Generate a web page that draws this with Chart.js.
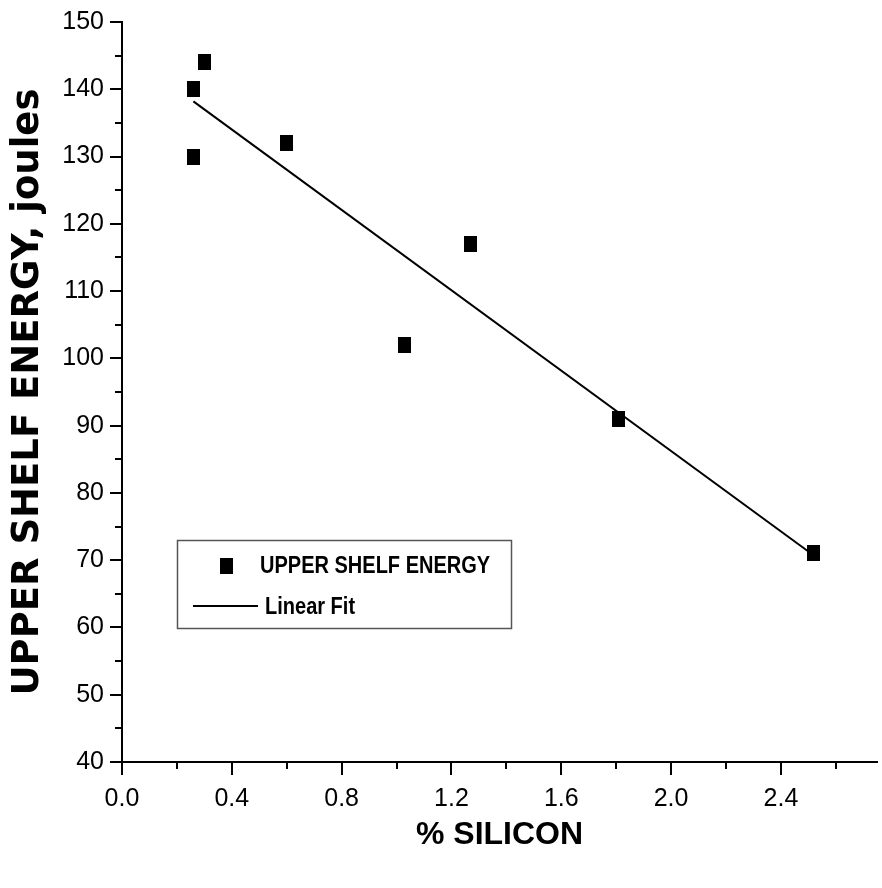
<!DOCTYPE html>
<html>
<head>
<meta charset="utf-8">
<script src="https://cdn.jsdelivr.net/npm/chart.js@4/dist/chart.umd.min.js"></script>
<style>
  html, body { margin: 0; padding: 0; background: #fff; }
  #wrap { width: 882px; height: 888px; }
</style>
</head>
<body>
<div id="wrap"><canvas id="silicon"></canvas></div>
<script>
// measured points: % silicon vs upper shelf energy
const siliconPct = [0.26, 0.26, 0.30, 0.60, 1.03, 1.27, 1.81, 2.52];
const shelfEnergy = [140, 130, 144, 132, 102, 117, 91, 71];

// linear fit end points
const fitX = [0.26, 2.52];
const fitY = [138.2, 70.7];

const xMajor = [0.0, 0.4, 0.8, 1.2, 1.6, 2.0, 2.4];
const xMinor = [0.2, 0.6, 1.0, 1.4, 1.8, 2.2, 2.6];
const yMajor = [40, 50, 60, 70, 80, 90, 100, 110, 120, 130, 140, 150];
const yMinor = [45, 55, 65, 75, 85, 95, 105, 115, 125, 135, 145];

const seriesName = "UPPER SHELF ENERGY";
const fitName = "Linear Fit";

// square marker, a bit taller than wide like the original
function makeMarker() {
    let c = document.createElement("canvas");
    c.width = 13;
    c.height = 16;
    let g = c.getContext("2d");
    g.fillStyle = "#000";
    g.fillRect(0, 0, 13, 16);
    return c;
}
const marker = makeMarker();

const minorTicks = {
    id: "minorTicks",
    afterDraw(chart) {
        const ctx = chart.ctx;
        const xs = chart.scales.x;
        const ys = chart.scales.y;
        ctx.save();
        ctx.strokeStyle = "#000";
        ctx.lineWidth = 2;
        ctx.beginPath();
        xMinor.forEach(v => {
            const px = Math.round(xs.getPixelForValue(v));
            ctx.moveTo(px, ys.bottom);
            ctx.lineTo(px, ys.bottom + 7);
        });
        yMinor.forEach(v => {
            const py = Math.round(ys.getPixelForValue(v));
            ctx.moveTo(xs.left, py);
            ctx.lineTo(xs.left - 7, py);
        });
        ctx.stroke();
        ctx.restore();
    }
};

// condensed text (no narrow font installed, so squeeze it)
function narrowText(ctx, txt, x, y, squeeze) {
    ctx.save();
    ctx.translate(x, y);
    ctx.scale(squeeze, 1);
    ctx.fillText(txt, 0, 0);
    ctx.restore();
}

// legend box inside the plot, lower left
const boxLegend = {
    id: "boxLegend",
    afterDraw(chart) {
        const ctx = chart.ctx;
        ctx.save();
        ctx.strokeStyle = "#555";
        ctx.lineWidth = 1.5;
        ctx.strokeRect(177.5, 540.5, 334, 88);
        ctx.drawImage(marker, 220, 558);
        ctx.strokeStyle = "#000";
        ctx.lineWidth = 2;
        ctx.beginPath();
        ctx.moveTo(193, 606);
        ctx.lineTo(258, 606);
        ctx.stroke();
        ctx.fillStyle = "#000";
        ctx.font = "bold 23px 'Liberation Sans', Arial, sans-serif";
        ctx.textBaseline = "middle";
        narrowText(ctx, seriesName, 260, 567, 0.87);
        narrowText(ctx, fitName, 265, 608, 0.87);
        ctx.restore();
    }
};

new Chart("silicon", {
    type: "scatter",
    data: {
        datasets: [{
            label: seriesName,
            data: siliconPct.map((x, i) => ({x: x, y: shelfEnergy[i]})),
            pointStyle: marker,
            backgroundColor: "#000",
            borderColor: "#000"
        }, {
            type: "line",
            label: fitName,
            data: fitX.map((x, i) => ({x: x, y: fitY[i]})),
            borderColor: "#000",
            borderWidth: 2,
            pointRadius: 0,
            fill: false
        }]
    },
    options: {
        responsive: true,
        maintainAspectRatio: false,
        animation: false,
        layout: {padding: {top: 22, right: 2, bottom: 34, left: 0}},
        plugins: {
            legend: {display: false},
            tooltip: {enabled: false}
        },
        scales: {
            x: {
                type: "linear",
                min: 0,
                max: 2.75,
                afterBuildTicks: s => { s.ticks = xMajor.map(v => ({value: v})); },
                afterFit: s => { s.height = 92; },
                border: {display: true, color: "#000", width: 2},
                grid: {drawOnChartArea: false, color: "#000", lineWidth: 2, tickLength: 13},
                ticks: {
                    color: "#000",
                    padding: 9,
                    maxRotation: 0,
                    font: {family: "'Liberation Sans', Arial, sans-serif", size: 25},
                    callback: v => v.toFixed(1)
                },
                title: {
                    display: true,
                    text: "% SILICON",
                    color: "#000",
                    font: {family: "'Liberation Sans', Arial, sans-serif", size: 32, weight: "bold"},
                    padding: {top: 0, bottom: 0}
                }
            },
            y: {
                type: "linear",
                min: 40,
                max: 150,
                afterBuildTicks: s => { s.ticks = yMajor.map(v => ({value: v})); },
                afterFit: s => { s.width = 122; },
                border: {display: true, color: "#000", width: 2},
                grid: {drawOnChartArea: false, color: "#000", lineWidth: 2, tickLength: 12},
                ticks: {
                    color: "#000",
                    padding: 6,
                    font: {family: "'Liberation Sans', Arial, sans-serif", size: 25}
                },
                title: {
                    display: true,
                    text: "UPPER SHELF ENERGY, joules",
                    color: "#000",
                    font: {family: "'DejaVu Sans', sans-serif", size: 37, weight: "bold"},
                    padding: {top: 6, bottom: 0}
                }
            }
        }
    },
    plugins: [minorTicks, boxLegend]
});
</script>
</body>
</html>
